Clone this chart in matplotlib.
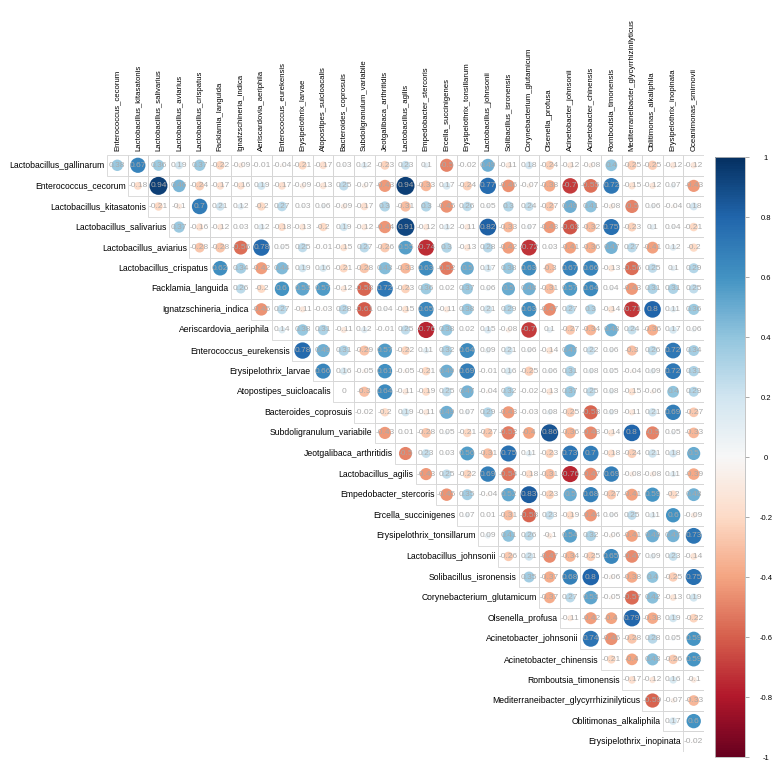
import matplotlib.pyplot as plt
from matplotlib.patches import Circle, Rectangle
from matplotlib.cm import ScalarMappable
from matplotlib.colors import Normalize
import numpy as np

plt.rcParams['font.family'] = ['Liberation Sans', 'DejaVu Sans']

# Data: upper-triangle correlation matrix (row i starts at column i)
row_labels = ['Lactobacillus_gallinarum', 'Enterococcus_cecorum', 'Lactobacillus_kitasatonis',
              'Lactobacillus_salivarius', 'Lactobacillus_aviarius', 'Lactobacillus_crispatus',
              'Facklamia_languida', 'Ignatzschineria_indica', 'Aeriscardovia_aeriphila',
              'Enterococcus_eurekensis', 'Erysipelothrix_larvae', 'Atopostipes_suicloacalis',
              'Bacteroides_coprosuis', 'Subdoligranulum_variabile', 'Jeotgalibaca_arthritidis',
              'Lactobacillus_agilis', 'Empedobacter_stercoris', 'Ercella_succinigenes',
              'Erysipelothrix_tonsillarum', 'Lactobacillus_johnsonii', 'Solibacillus_isronensis',
              'Corynebacterium_glutamicum', 'Olsenella_profusa', 'Acinetobacter_johnsonii',
              'Acinetobacter_chinensis', 'Romboutsia_timonensis',
              'Mediterraneibacter_glycyrrhizinilyticus', 'Oblitimonas_alkaliphila',
              'Erysipelothrix_inopinata']
col_labels = row_labels[1:] + ['Oceanimonas_smirnovii']

coef_rows = [
    [0.38, 0.67, 0.36, 0.19, 0.37, -0.22, -0.09, -0.01, -0.04, -0.21, -0.17, 0.03, 0.12, -0.23, 0.23,
     0.1, -0.5, -0.02, 0.49, -0.11, 0.18, -0.24, -0.12, -0.08, 0.4, -0.25, -0.25, -0.12, -0.12],
    [-0.18, 0.94, 0.46, -0.24, -0.17, -0.16, 0.19, -0.17, -0.09, -0.13, 0.25, -0.07, -0.43, 0.94,
     -0.33, 0.17, -0.24, 0.77, -0.46, -0.07, -0.38, -0.7, -0.55, 0.72, -0.15, -0.12, 0.07, -0.43],
    [-0.21, -0.1, 0.7, 0.21, 0.12, -0.2, 0.27, 0.03, 0.06, -0.09, -0.17, 0.3, -0.31, 0.3, -0.45,
     0.26, 0.05, 0.3, 0.24, -0.27, 0.49, 0.41, -0.08, -0.5, 0.06, -0.04, 0.18],
    [0.37, -0.16, -0.12, 0.03, 0.12, -0.18, -0.13, -0.2, 0.19, -0.12, -0.44, 0.91, -0.12, 0.12,
     -0.11, 0.82, -0.33, 0.07, -0.43, -0.63, -0.32, 0.75, -0.23, 0.1, 0.04, -0.21],
    [-0.28, -0.28, -0.56, 0.78, 0.05, 0.25, -0.01, -0.15, 0.27, -0.26, 0.55, -0.74, 0.3, -0.13,
     0.28, -0.42, -0.72, 0.03, -0.41, -0.36, 0.47, 0.27, -0.41, 0.12, -0.2],
    [0.62, 0.34, -0.42, 0.44, 0.19, 0.16, -0.21, -0.28, 0.43, -0.33, 0.63, -0.52, 0.5, 0.17, 0.38,
     0.63, -0.3, 0.67, 0.66, -0.13, -0.56, 0.25, 0.1, 0.29],
    [0.26, -0.2, 0.6, 0.53, 0.57, -0.12, -0.58, 0.72, -0.23, 0.36, 0.02, 0.37, 0.06, 0.5, 0.48,
     -0.31, 0.57, 0.64, 0.04, -0.43, 0.31, 0.31, 0.25],
    [-0.45, 0.27, -0.11, -0.03, 0.28, -0.61, 0.04, -0.15, 0.65, -0.11, 0.38, 0.21, 0.29, 0.63,
     -0.47, 0.27, 0.3, -0.14, -0.71, 0.8, 0.11, 0.36],
    [0.14, 0.38, 0.31, -0.11, 0.12, -0.01, 0.25, -0.76, 0.38, 0.02, 0.15, -0.08, -0.7, 0.1, -0.27,
     -0.34, 0.48, 0.24, -0.36, 0.17, 0.06],
    [0.78, 0.49, 0.31, -0.29, 0.57, -0.22, 0.11, 0.32, 0.64, 0.09, 0.21, 0.06, -0.14, 0.47, 0.22,
     0.06, -0.3, 0.26, 0.72, 0.34],
    [0.66, 0.16, -0.05, 0.61, -0.05, -0.21, 0.49, 0.69, -0.01, 0.16, -0.25, 0.06, 0.31, 0.08, 0.05,
     -0.04, 0.09, 0.72, 0.31],
    [0, -0.3, 0.64, -0.11, -0.19, 0.25, 0.47, -0.04, 0.32, -0.02, -0.13, 0.37, 0.25, 0.08, -0.15,
     -0.06, 0.4, 0.29],
    [-0.02, -0.2, 0.19, -0.11, 0.49, 0.07, 0.29, -0.43, -0.03, 0.08, -0.25, -0.58, 0.09, -0.11,
     0.21, 0.69, -0.27],
    [-0.43, 0.01, -0.28, 0.05, -0.21, -0.27, -0.52, -0.4, 0.86, -0.36, -0.48, -0.14, 0.8, -0.5,
     0.05, -0.33],
    [-0.5, 0.23, 0.03, 0.56, -0.31, 0.75, 0.11, -0.23, 0.73, 0.7, -0.18, -0.24, 0.21, 0.18, 0.5],
    [-0.43, 0.25, -0.22, 0.69, -0.54, -0.18, -0.31, -0.76, -0.47, 0.69, -0.08, -0.08, 0.11, -0.39],
    [-0.45, 0.35, -0.04, 0.52, 0.83, -0.23, 0.5, 0.68, -0.27, -0.41, 0.59, -0.2, 0.48],
    [0.07, 0.01, -0.31, -0.58, 0.23, -0.19, -0.44, 0.06, 0.25, 0.11, 0.6, -0.09],
    [0.09, 0.41, 0.26, -0.1, 0.54, 0.32, -0.06, -0.41, 0.49, 0.47, 0.73],
    [-0.26, 0.21, -0.47, -0.34, -0.25, 0.65, -0.47, 0.09, 0.23, -0.14],
    [0.35, -0.37, 0.68, 0.8, -0.06, -0.38, 0.4, -0.25, 0.75],
    [-0.37, 0.27, 0.53, -0.05, -0.57, 0.42, -0.13, 0.19],
    [-0.11, -0.42, -0.4, 0.79, -0.38, 0.19, -0.22],
    [0.74, -0.46, -0.28, 0.28, 0.05, 0.59],
    [-0.21, -0.4, 0.43, -0.26, 0.59],
    [-0.17, -0.12, 0.16, -0.1],
    [-0.59, -0.07, -0.33],
    [0.17, 0.6],
    [-0.02],
]

cbar_ticks = [-1, -0.8, -0.6, -0.4, -0.2, 0, 0.2, 0.4, 0.6, 0.8, 1]

cmap = plt.get_cmap('RdBu')
n = len(col_labels)

fig = plt.figure(figsize=(7.82, 7.68), dpi=100)
ax = fig.add_axes([107 / 782, 16 / 768, 597 / 782, 597 / 768])

for i, vals in enumerate(coef_rows):
    for k, v in enumerate(vals):
        j = i + k
        ax.add_patch(Rectangle((j - 0.5, i - 0.5), 1, 1, fill=False, ec='#d6d6d6', lw=0.6))
        ax.add_patch(Circle((j, i), 0.45 * np.sqrt(abs(v)), color=cmap((v + 1) / 2), lw=0))
        ax.text(j, i, f'{v:g}', ha='center', va='center', fontsize=6, color='#a9a9a9')
    ax.text(i - 0.6, i, row_labels[i], ha='right', va='center', fontsize=6.2)

for j, lab in enumerate(col_labels):
    ax.text(j, -0.7, lab, rotation=90, ha='center', va='bottom', fontsize=5.6)

ax.set_xlim(-0.5, n - 0.5)
ax.set_ylim(n - 0.5, -0.5)
ax.axis('off')

# colour legend
cax = fig.add_axes([715 / 782, 11 / 768, 30 / 782, 600 / 768])
sm = ScalarMappable(norm=Normalize(-1, 1), cmap=cmap)
cb = fig.colorbar(sm, cax=cax, ticks=cbar_ticks)
cb.ax.set_yticklabels([f'{t:g}' for t in cbar_ticks], fontsize=5.5, ha='center')
cb.ax.tick_params(length=3, width=0.5, color='#888888', pad=12)
cb.outline.set_edgecolor('#bbbbbb')
cb.outline.set_linewidth(0.6)

plt.savefig('out.png', dpi=100)
plt.close()
